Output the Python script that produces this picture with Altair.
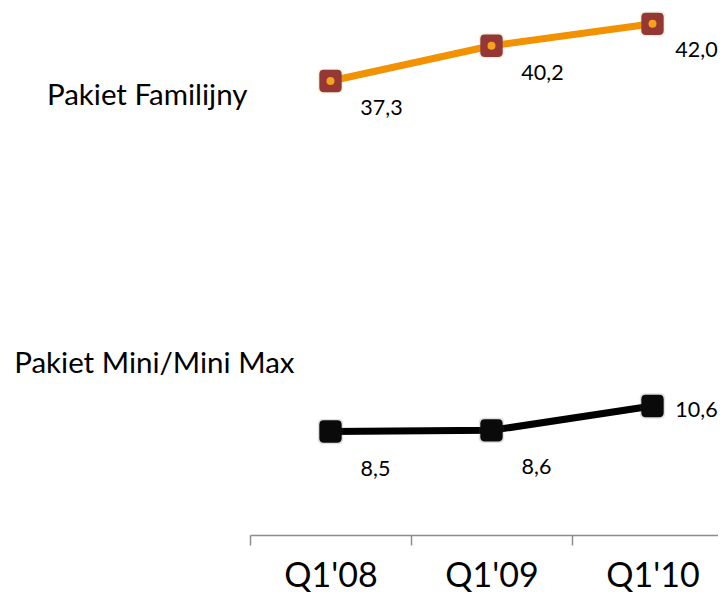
import altair as alt
import pandas as pd

quarters = ["Q1'08", "Q1'09", "Q1'10"]
series_names = ["Pakiet Familijny", "Pakiet Mini/Mini Max"]
familijny = [37.3, 40.2, 42.0]
mini = [8.5, 8.6, 10.6]

rows = []
for q, v in zip(quarters, familijny):
    rows.append({"q": q, "series": series_names[0], "v": v})
for q, v in zip(quarters, mini):
    rows.append({"q": q, "series": series_names[1], "v": v})
df = pd.DataFrame(rows)

FONT = "Lato"

x = alt.X(
    "q:N",
    sort=quarters,
    scale=alt.Scale(domain=quarters, range=[0, 483], paddingInner=0, paddingOuter=0),
    axis=alt.Axis(
        title=None, tickBand="extent", labelAngle=0, labelFont=FONT, labelFontSize=34,
        labelColor="#000000", labelPadding=14, tickSize=10, tickWidth=1.5, tickColor="#8c8c8c",
        domainColor="#8c8c8c", domainWidth=1.5, grid=False,
    ),
)
y = alt.Y("v:Q", scale=alt.Scale(domain=[0, 43.3], nice=False, zero=True), axis=None)

base = alt.Chart(df).encode(x=x, y=y).transform_calculate(
    lab="replace(format(datum.v, '.1f'), '.', ',')"
)

is_fam = alt.datum.series == series_names[0]
is_mini = alt.datum.series == series_names[1]
is_last = alt.datum.q == quarters[2]

lines = base.mark_line(strokeWidth=7).encode(
    color=alt.condition(is_fam, alt.value("#F39200"), alt.value("#000000")),
    detail="series:N",
)

rsq = "M -0.6 -1 L 0.6 -1 Q 1 -1 1 -0.6 L 1 0.6 Q 1 1 0.6 1 L -0.6 1 Q -1 1 -1 0.6 L -1 -0.6 Q -1 -1 -0.6 -1 Z"
glow = base.mark_point(shape=rsq, filled=True, size=640, opacity=0.18).encode(
    color=alt.condition(is_fam, alt.value("#9bbb59"), alt.value("#555555"))
)
markers = base.mark_point(shape=rsq, filled=True, size=500, opacity=1).encode(
    color=alt.condition(is_fam, alt.value("#953735"), alt.value("#0a0a0a"))
)
inner = base.transform_filter(is_fam).mark_circle(size=64, color="#F7A21B", opacity=1)

txt = dict(font=FONT, fontSize=21.5, color="#000000", align="center", baseline="middle")
lab_fam = base.transform_filter(is_fam & ~is_last).mark_text(dx=51, dy=28, **txt).encode(text="lab:N")
lab_fam_last = base.transform_filter(is_fam & is_last).mark_text(dx=44, dy=27, **txt).encode(text="lab:N")
lab_mini_below = base.transform_filter(is_mini & ~is_last).mark_text(dx=45, dy=38, **txt).encode(text="lab:N")
lab_mini_right = base.transform_filter(is_mini & is_last).mark_text(dx=44, dy=5, **txt).encode(text="lab:N")

name_txt = dict(font=FONT, fontSize=29.5, color="#000000", align="right", baseline="middle")
name_fam = base.transform_filter(
    is_fam & (alt.datum.q == quarters[0])
).mark_text(dx=-83, dy=15, **name_txt).encode(text="series:N")
name_mini = base.transform_filter(
    is_mini & (alt.datum.q == quarters[0])
).mark_text(dx=-36, dy=-68, **name_txt).encode(text="series:N")

chart = alt.layer(
    lines, glow, markers, inner, lab_fam, lab_fam_last, lab_mini_below, lab_mini_right,
    name_fam, name_mini
).properties(
    width=468, height=527,
    padding={"left": 242, "top": 0, "right": 0, "bottom": 66},
    autosize="none",
).configure(background="white").configure_view(stroke=None, strokeWidth=0)

chart.save("out.html", embed_options={"renderer": "svg", "actions": False})
